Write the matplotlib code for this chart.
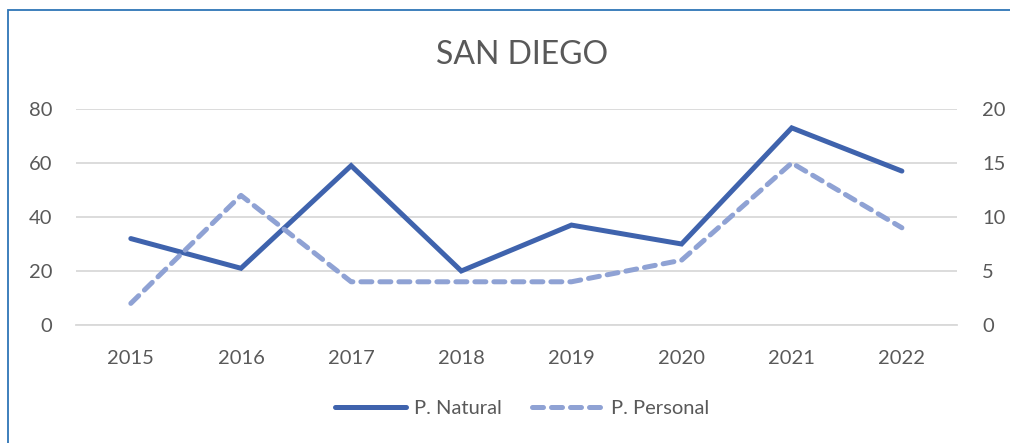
import matplotlib.pyplot as plt
from matplotlib.patches import Rectangle

# values
years = ['2015', '2016', '2017', '2018', '2019', '2020', '2021', '2022']
natural = [32, 21, 59, 20, 37, 30, 73, 57]
personal = [2, 12, 4, 4, 4, 6, 15, 9]

left_ticks = [0, 20, 40, 60, 80]
right_ticks = [0, 5, 10, 15, 20]

text_color = '#595959'
natural_color = '#3F63AD'
personal_color = '#8FA2D4'

plt.rcParams['font.family'] = ['Lato', 'DejaVu Sans']

fig = plt.figure(figsize=(10.1, 4.43), dpi=100)
ax = fig.add_axes([0.075, 0.2664, 0.8725, 0.4876])
ax2 = ax.twinx()

x = list(range(len(years)))
l1, = ax.plot(x, natural, color=natural_color, lw=3.6,
              solid_capstyle='round', solid_joinstyle='miter', label='P. Natural')
l2, = ax2.plot(x, personal, color=personal_color, lw=3.6, linestyle=(0, (2.2, 1.6)),
               dash_capstyle='round', label='P. Personal')

ax.set_xlim(-0.5, len(years) - 0.5)
ax.set_ylim(0, 80)
ax2.set_ylim(0, 20)
ax.set_yticks(left_ticks)
ax2.set_yticks(right_ticks)
ax.set_xticks(x)
ax.set_xticklabels(years)

ax.grid(axis='y', color='#D9D9D9', lw=1.3)
ax.set_axisbelow(True)
for a in (ax, ax2):
    for s in a.spines.values():
        s.set_visible(False)
    a.tick_params(length=0, labelsize=14.5, colors=text_color)
ax.tick_params(axis='y', pad=17)
ax2.tick_params(axis='y', pad=18)
ax.tick_params(axis='x', pad=18)
ax.spines['bottom'].set_visible(True)
ax.spines['bottom'].set_color('#D9D9D9')
ax.spines['bottom'].set_linewidth(1.3)

fig.text(0.5165, 0.876, 'SAN DIEGO', ha='center', va='center',
         fontsize=23, color=text_color)

fig.legend(handles=[l1, l2], loc='center', bbox_to_anchor=(0.517, 0.079),
           ncol=2, frameon=False, fontsize=14.5, labelcolor=text_color,
           handlelength=3.5, columnspacing=1.5, handletextpad=0.4)

# outer chart border (top and left edges visible in the crop)
fig.patches.append(Rectangle((8 / 1010, -0.05), 1.1, 1 - 10 / 443 + 0.05,
                             transform=fig.transFigure, fill=False,
                             edgecolor='#2E75B6', lw=1.3))

fig.savefig('out.png', dpi=100)
